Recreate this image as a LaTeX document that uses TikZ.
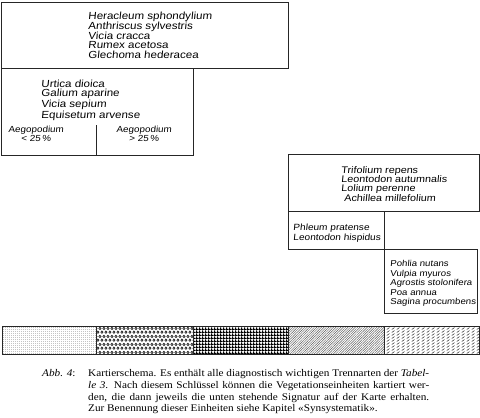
\documentclass[tikz,border=0pt]{standalone}
\usepackage{fontspec}
\setmainfont{Liberation Serif}[FakeStretch=1.1]
\newfontfamily\hand{Liberation Sans}[FakeStretch=1.12, FakeSlant=0.1]
\usetikzlibrary{patterns,patterns.meta}

\tikzdeclarepattern{name=finedots, type=uncolored,
  bounding box={(0pt,0pt) and (1.6pt,1.6pt)}, tile size={(1.6pt,1.6pt)},
  code={\fill (0.4pt,0.4pt) rectangle (1.2pt,1.2pt);}}
\tikzdeclarepattern{name=rings, type=uncolored,
  bounding box={(0pt,0pt) and (4.4pt,7.6pt)}, tile size={(4.4pt,7.6pt)},
  code={\draw[line width=0.75pt] (2.2pt,1.9pt) circle (1.2pt);
        \draw[line width=0.75pt] (0pt,5.7pt) circle (1.2pt);
        \draw[line width=0.75pt] (4.4pt,5.7pt) circle (1.2pt);}}
\tikzdeclarepattern{name=gridcheck, type=uncolored,
  bounding box={(0pt,0pt) and (2.8pt,2.8pt)}, tile size={(2.8pt,2.8pt)},
  code={\fill (0pt,0pt) rectangle (2.8pt,1.1pt);
        \fill (0pt,0pt) rectangle (1.1pt,2.8pt);}}
\tikzdeclarepattern{name=dashstrokes, type=uncolored,
  bounding box={(0pt,0pt) and (4.6pt,3.4pt)}, tile size={(4.6pt,3.4pt)},
  code={\draw[line width=0.6pt] (0.8pt,0.6pt) -- (3.8pt,2.8pt);}}

\begin{document}
\begin{tikzpicture}[x=1pt,y=-1pt,
  boxline/.style={line width=0.9pt, black!85},
  species/.style={align=left, anchor=north west, inner sep=0pt},
  aego/.style={font=\hand\fontsize{8.8}{9}\selectfont, align=center, anchor=north, inner sep=0pt},
  capt/.style={font=\fontsize{10.2}{11.8}\selectfont, anchor=base west, inner sep=0pt}]
\useasboundingbox (0,0) rectangle (480,418);

% boxes
\draw[boxline] (1,2) rectangle (288,68);
\draw[boxline] (1,68) rectangle (193,155);
\draw[boxline] (96,125) -- (96,155);
\draw[boxline] (288,154) rectangle (479,211);
\draw[boxline] (288,211) rectangle (384,249);
\draw[boxline] (384,249) rectangle (477,313);

% species texts
\node[species, font=\hand\fontsize{10.3}{9.75}\selectfont] (b1) at (88,12) {Heracleum sphondylium\\Anthriscus sylvestris\\Vicia cracca\\Rumex acetosa\\Glechoma hederacea};
\node[species, font=\hand\fontsize{10.3}{9.3}\selectfont] (b2) at (41,80) {Urtica dioica\\Galium aparine\\Vicia sepium\\Equisetum arvense};
\node[aego] (a1) at (36,125.5) {Aegopodium\\< 25\,\%};
\node[aego] (a2) at (144,125.5) {Aegopodium\\> 25\,\%};
\node[species, font=\hand\fontsize{9.6}{9.4}\selectfont] (b3) at (341,166) {Trifolium repens\\Leontodon autumnalis\\Lolium perenne\\\hspace{3pt}Achillea millefolium};
\node[species, font=\hand\fontsize{9}{9.3}\selectfont] (b4) at (293,224) {Phleum pratense\\Leontodon hispidus};
\node[species, font=\hand\fontsize{8.6}{9.6}\selectfont] (b5) at (390,260) {Pohlia nutans\\Vulpia myuros\\Agrostis stolonifera\\Poa annua\\Sagina procumbens};

% signature bar
\draw[boxline, pattern=finedots, pattern color=black!55] (2,326) rectangle (96,354);
\draw[boxline, pattern=rings, pattern color=black!85] (96,326) rectangle (193,354);
\draw[boxline, pattern=gridcheck, pattern color=black] (193,326) rectangle (288,354);
\draw[boxline, pattern={Lines[angle=45,distance=1.7pt,line width=0.45pt]}, pattern color=black!65] (288,326) rectangle (384,354);
\draw[boxline, pattern=dashstrokes, pattern color=black!80] (384,326) rectangle (479,354);

% caption
\node[capt] (abb) at (42,376) {\textit{Abb. 4}:};
\node[capt] (c1) at (88,376) {\makebox[341pt][s]{Kartierschema. Es enthält alle diagnostisch wichtigen Trennarten der \textit{Tabel-}}};
\node[capt] (c2) at (88,388) {\makebox[341pt][s]{\textit{le 3}. Nach diesem Schlüssel können die Vegetationseinheiten kartiert wer-}};
\node[capt] (c3) at (88,400) {\makebox[341pt][s]{den, die dann jeweils die unten stehende Signatur auf der Karte erhalten.}};
\node[capt] (c4) at (88,411.8) {Zur Benennung dieser Einheiten siehe Kapitel «Synsystematik».};
\end{tikzpicture}
\end{document}
